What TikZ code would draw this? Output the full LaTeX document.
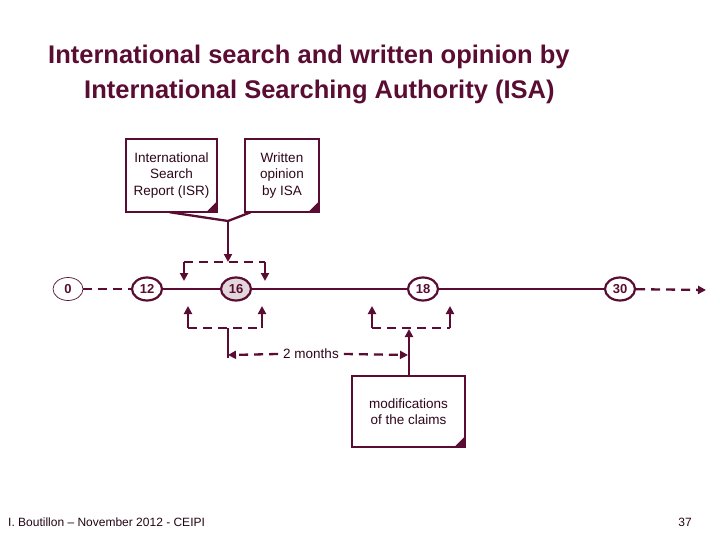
\documentclass[tikz,border=0pt]{standalone}
\usepackage{fontspec}
\setmainfont{Liberation Sans}
\newfontfamily\titlefont{Liberation Sans Bold}
\usetikzlibrary{arrows.meta,shapes.geometric}
\definecolor{maroon}{RGB}{90,12,50}
\definecolor{lightfill}{RGB}{226,216,220}
\newcommand\foldbox[1]{%
  \draw[boxline] (#1.north west) -- (#1.north east) -- (#1.south east) -- (#1.south west) -- cycle;
  \fill[maroon] ([yshift=11pt]#1.south east) -- (#1.south east) -- ([xshift=-11pt]#1.south east)
     .. controls ([shift={(-6pt,5pt)}]#1.south east) .. cycle;}
\begin{document}
\begin{tikzpicture}[x=1pt,y=-1pt,
  tnode/.style={ellipse, draw=maroon, line width=2.2pt, minimum width=30pt, minimum height=23pt,
     inner sep=0pt, text=maroon, font=\titlefont\fontsize{13}{13}\selectfont},
  tnodethin/.style={tnode, line width=0.7pt},
  note/.style={inner sep=0pt, align=center, text=maroon!50!black, font=\fontsize{13.5}{16.5}\selectfont},
  boxline/.style={draw=maroon, line width=1.9pt},
  conn/.style={draw=maroon, line width=2.3pt},
  arr/.style={conn, -{Triangle[width=8pt,length=8pt]}},
  dline/.style={dash pattern=on 9pt off 6pt},
  titletext/.style={anchor=base west, inner sep=0pt, text=maroon, font=\titlefont\fontsize{25.5}{25.5}\selectfont}
]
\path[use as bounding box] (0,0) rectangle (720,540);

% title
\node[titletext] (title1) at (48,64) {International search and written opinion by};
\node[titletext] (title2) at (84,99) {International Searching Authority (ISA)};

% document boxes
\node[note, minimum width=91pt, minimum height=73pt] (isr) at (171.5,175.5) {International\\Search\\Report (ISR)};
\node[note, minimum width=74pt, minimum height=73pt] (wo) at (282,175.5) {Written\\opinion\\by ISA};
\node[note, minimum width=113pt, minimum height=71pt] (mod) at (408.5,411.5) {modifications\\of the claims};
\foldbox{isr}
\foldbox{wo}
\foldbox{mod}

% timeline
\node[tnodethin] (t0) at (68,289) {0};
\node[tnode] (t12) at (147,289) {12};
\node[tnode, fill=lightfill] (t16) at (236,289) {16};
\node[tnode] (t18) at (423,289) {18};
\node[tnode] (t30) at (620,289) {30};
\coordinate (tend) at (706,290);
\draw[conn, line width=1.6pt, dline] (t0) -- (t12);
\draw[conn, line width=1.6pt] (t12) -- (t16);
\draw[conn, line width=1.6pt] (t16) -- (t18);
\draw[conn, line width=1.6pt] (t18) -- (t30);
\draw[arr, dline] (t30) -- (tend);

% from boxes to 16
\coordinate (join) at (228,221);
\coordinate (jb) at (228,262);
\coordinate (ul) at (184,262);
\coordinate (ur) at (265,262);
\coordinate (ula) at (184,281);
\coordinate (ura) at (265,281);
\draw[conn] ([xshift=-2pt]isr.south) -- (join);
\draw[conn] ([xshift=6pt]wo.south west) -- (join);
\draw[arr] (join) -- (jb);
\draw[conn, dline] (ul) -- (ur);
\draw[arr] (ul) -- (ula);
\draw[arr] (ur) -- (ura);

% lower bracket under 16
\coordinate (ll) at (188,328);
\coordinate (lr) at (262,328);
\coordinate (lla) at (188,306);
\coordinate (lra) at (262,306);
\coordinate (lm) at (228,328);
\coordinate (m1) at (228,355);
\draw[conn, dline] (ll) -- (lr);
\draw[arr] (ll) -- (lla);
\draw[arr] (lr) -- (lra);
\draw[conn] (lm) -- ([yshift=-3pt]m1);

% lower bracket under 18
\coordinate (rl) at (372,328);
\coordinate (rr) at (450,328);
\coordinate (rla) at (372,306);
\coordinate (rra) at (450,306);
\coordinate (rm) at (409,329);
\coordinate (m2) at (408,355);
\draw[conn, dline] (rl) -- (rr);
\draw[arr] (rl) -- (rla);
\draw[arr] (rr) -- (rra);
\draw[arr] (mod.north -| rm) -- (rm);

% 2 months
\node[inner sep=5pt, text=maroon!50!black, font=\fontsize{13.5}{13.5}\selectfont] (mlab) at (311,354) {2 months};
\draw[arr, dline] (mlab.west) -- (m1);
\draw[arr, dline] (mlab.east) -- (m2);

% footer
\node[anchor=base west, inner sep=0pt, text=maroon!40!black, font=\fontsize{12}{12}\selectfont] (foot) at (8,526) {I. Boutillon -- November 2012 - CEIPI};
\node[anchor=base east, inner sep=0pt, text=maroon!40!black, font=\fontsize{12}{12}\selectfont] (page) at (692,526) {37};
\end{tikzpicture}
\end{document}
